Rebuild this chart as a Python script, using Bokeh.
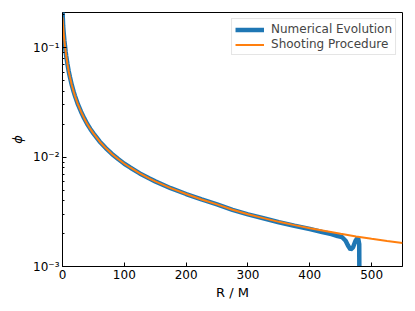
from bokeh.plotting import figure
from bokeh.models import FixedTicker, Legend, LegendItem, Range1d
from bokeh.embed import file_html
from bokeh.resources import INLINE

# Shooting procedure (orange)
r_shoot = [0, 1, 2, 3, 4, 5, 6, 8, 10, 12, 15, 18, 20, 25, 30, 35, 40, 45, 50,
           60, 70, 80, 90, 100, 110, 125, 140, 150, 175, 200, 225, 250, 275, 300,
           325, 350, 375, 400, 425, 450, 475, 500, 525, 550]
phi_shoot = [0.19, 0.158, 0.135, 0.117, 0.104, 0.093, 0.084, 0.071, 0.061, 0.054,
             0.0457, 0.0397, 0.0365, 0.0303, 0.026, 0.0227, 0.0201, 0.0181, 0.0165,
             0.0139, 0.0121, 0.0107, 0.0096, 0.0087, 0.0080, 0.0071, 0.0064, 0.0060,
             0.0052, 0.0046, 0.0041, 0.0037, 0.0033, 0.0030, 0.00277, 0.00256,
             0.00239, 0.00224, 0.00211, 0.00199, 0.00188, 0.00179, 0.00171, 0.00164]

# Numerical evolution (blue)
r_num = [0, 1, 2, 3, 4, 5, 6, 8, 10, 12, 15, 18, 20, 25, 30, 35, 40, 45, 50,
         60, 70, 80, 90, 100, 110, 125, 140, 150, 175, 200, 225, 250, 275, 300,
         325, 350, 375, 400, 420, 435, 445, 452, 458, 462, 466, 470, 474, 478,
         480, 481]
phi_num = [0.22, 0.158, 0.135, 0.117, 0.104, 0.093, 0.084, 0.071, 0.061, 0.054,
           0.0457, 0.0397, 0.0365, 0.0303, 0.026, 0.0227, 0.0201, 0.0181, 0.0165,
           0.0139, 0.0121, 0.0107, 0.0096, 0.0087, 0.0080, 0.0071, 0.0064, 0.0060,
           0.0052, 0.0046, 0.0041, 0.0037, 0.0033, 0.0030, 0.00276, 0.00254,
           0.00236, 0.0022, 0.00207, 0.00198, 0.0019, 0.00186, 0.00172, 0.00155,
           0.00143, 0.0015, 0.00172, 0.00185, 0.0016, 0.0001]

x_ticks = [0, 100, 200, 300, 400, 500]
y_ticks = [0.001, 0.01, 0.1]
y_tick_labels = ["10\u207b\u00b3", "10\u207b\u00b2", "10\u207b\u00b9"]

p = figure(frame_width=340, frame_height=254, y_axis_type="log",
           x_range=Range1d(0, 550), y_range=Range1d(0.001, 0.21),
           output_backend="svg", toolbar_location=None,
           min_border_left=62, min_border_right=13, min_border_top=12,
           min_border_bottom=45)

p.background_fill_color = "white"
p.border_fill_color = "white"
p.outline_line_color = "black"
p.outline_line_width = 1
p.xgrid.visible = False
p.ygrid.visible = False

font = "DejaVu Sans"
minor = [m * d for d in (0.001, 0.01, 0.1) for m in range(2, 10) if m * d < 0.21]
p.yaxis.ticker = FixedTicker(ticks=y_ticks, minor_ticks=minor)
p.yaxis.major_label_overrides = {t: lab for t, lab in zip(y_ticks, y_tick_labels)}
p.xaxis.ticker = FixedTicker(ticks=x_ticks, minor_ticks=[])

for ax in (p.xaxis, p.yaxis):
    ax.major_tick_in = 4
    ax.major_tick_out = 0
    ax.minor_tick_in = 2
    ax.minor_tick_out = 0
    ax.axis_line_color = "black"
    ax.major_tick_line_color = "black"
    ax.minor_tick_line_color = "black"
    ax.major_label_text_font = font
    ax.major_label_text_font_size = "12px"
    ax.major_label_text_color = "black"
    ax.axis_label_text_font = font
    ax.axis_label_text_font_size = "13px"
    ax.axis_label_text_font_style = "normal"
    ax.axis_label_text_color = "black"
    ax.major_label_standoff = 3

p.xaxis.axis_label = "R / M"
p.xaxis.axis_label_standoff = 3
p.yaxis.axis_label = "\u03d5"
p.yaxis.axis_label_text_font_style = "italic"
p.yaxis.axis_label_standoff = 5

l1 = p.line(r_num, phi_num, line_color="#1f77b4", line_width=4.5)
l2 = p.line(r_shoot, phi_shoot, line_color="#ff7f0e", line_width=2)

legend = Legend(items=[LegendItem(label="Numerical Evolution", renderers=[l1]),
                       LegendItem(label="Shooting Procedure", renderers=[l2])],
                location="top_right", margin=6, padding=3, spacing=1,
                glyph_width=29, glyph_height=13, label_standoff=7,
                label_text_font=font, label_text_font_size="12px",
                label_height=13,
                border_line_color="#cccccc", border_line_width=1,
                background_fill_alpha=0.8)
p.add_layout(legend)

open("out.html", "w").write(file_html(p, INLINE))
